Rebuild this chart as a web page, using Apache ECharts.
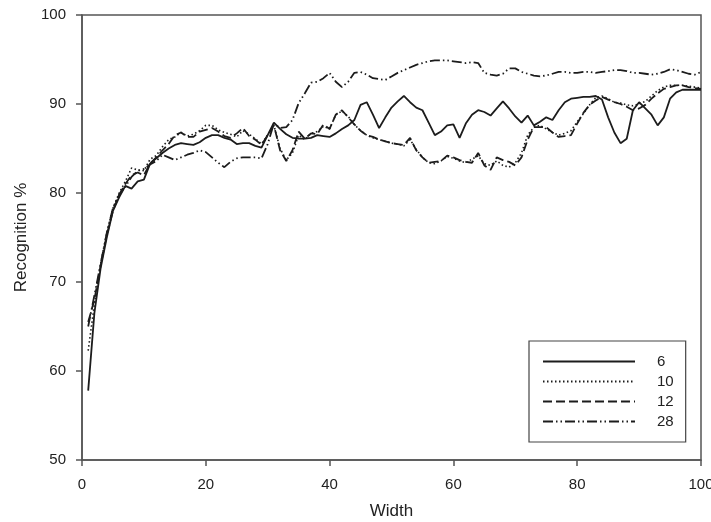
<!DOCTYPE html>
<html>
<head>
<meta charset="utf-8">
<script src="https://cdn.jsdelivr.net/npm/echarts@6/dist/echarts.min.js"></script>
<style>
html,body{margin:0;padding:0;background:#fff;}
#chart{width:711px;height:522px;}
</style>
</head>
<body>
<div id="chart"></div>
<script>
// Width values 1..100
const widths = Array.from({length: 100}, (_, i) => i + 1);

const seriesNames = ['6', '10', '12', '28'];

const s6 = [
57.8,66.5,71.5,75.0,78.0,79.5,80.8,80.5,81.3,81.5,
83.3,83.9,84.5,85.0,85.4,85.6,85.5,85.4,85.7,86.2,
86.5,86.5,86.2,86.0,85.5,85.6,85.6,85.3,85.1,86.5,
87.9,87.2,86.6,86.2,86.1,86.1,86.2,86.5,86.4,86.3,
86.7,87.2,87.6,88.2,89.9,90.2,88.8,87.3,88.5,89.6,
90.3,90.9,90.2,89.6,89.3,87.9,86.5,86.9,87.6,87.7,
86.2,87.8,88.8,89.3,89.1,88.7,89.5,90.3,89.5,88.6,
87.9,88.7,87.6,88.0,88.5,88.2,89.3,90.2,90.6,90.7,
90.8,90.8,90.9,90.5,88.5,86.8,85.6,86.1,89.3,90.2,
89.5,88.8,87.6,88.5,90.6,91.3,91.6,91.6,91.6,91.6
];

const s10 = [
62.3,67.5,72.0,75.5,78.3,80.0,81.3,82.8,82.6,82.5,
83.8,84.2,85.2,86.0,86.3,86.8,86.4,86.6,87.0,87.6,
87.6,87.1,86.8,86.6,86.3,87.0,86.6,86.1,85.5,86.5,
87.6,85.0,83.7,84.5,86.5,86.0,86.7,86.9,87.5,87.2,
88.8,89.2,88.6,87.7,87.0,86.5,86.2,86.0,85.8,85.6,
85.5,85.3,86.0,84.9,84.0,83.4,83.3,83.6,84.1,83.9,
83.6,83.4,83.8,84.2,83.3,83.1,83.6,83.1,82.9,83.4,
84.5,86.5,87.4,87.6,87.2,86.8,86.5,86.7,87.0,88.0,
88.9,89.9,90.7,90.9,90.6,90.2,90.1,89.9,89.8,90.0,
90.3,90.9,91.5,91.9,92.1,92.1,92.1,92.0,91.9,91.8
];

const s12 = [
65.5,68.0,71.8,75.3,78.0,79.8,81.0,82.0,82.3,82.0,
83.3,84.0,84.8,85.5,86.5,86.8,86.3,86.3,86.9,87.1,
87.3,86.9,86.4,86.2,86.7,87.3,86.4,86.0,85.4,86.5,
87.6,84.8,83.6,84.8,86.9,86.1,86.7,86.6,87.7,87.2,
88.8,89.3,88.5,87.7,87.0,86.5,86.3,86.0,85.8,85.6,
85.5,85.4,86.2,84.8,84.0,83.4,83.5,83.6,84.2,84.0,
83.7,83.5,83.4,84.5,83.1,82.6,84.0,83.7,83.5,83.1,
84.0,86.0,87.4,87.4,87.4,86.8,86.3,86.4,86.5,87.8,
89.0,89.9,90.4,90.8,90.5,90.2,90.0,89.7,89.3,89.5,
89.9,90.6,91.2,91.7,91.9,92.1,92.1,91.9,91.8,91.7
];

const s28 = [
65.0,68.5,72.0,75.5,78.3,79.8,80.7,81.8,82.5,82.7,
83.2,83.6,84.3,84.0,83.7,84.0,84.3,84.5,84.8,84.6,
84.0,83.4,82.9,83.5,83.9,84.0,84.0,84.0,83.9,85.5,
87.8,87.3,87.4,88.2,90.1,91.2,92.4,92.5,92.9,93.5,
92.5,91.9,92.5,93.5,93.6,93.3,92.9,92.8,92.7,93.1,
93.5,93.8,94.1,94.4,94.6,94.8,94.9,94.9,94.9,94.8,
94.7,94.6,94.7,94.6,93.5,93.3,93.2,93.4,94.0,94.0,
93.6,93.4,93.2,93.1,93.2,93.4,93.6,93.6,93.5,93.5,
93.6,93.6,93.5,93.6,93.7,93.8,93.8,93.7,93.5,93.5,
93.4,93.3,93.4,93.6,93.9,93.8,93.6,93.4,93.3,93.6
];

const xTicks = [0, 20, 40, 60, 80, 100];
const yTicks = [50, 60, 70, 80, 90, 100];

const lineColor = '#1c1c1c';
const axisColor = '#555';
const fontFam = 'Liberation Sans, Arial, sans-serif';

function pairs(vals) { return widths.map((w, i) => [w, vals[i]]); }

const styles = [
  {type: 'solid', width: 1.8},
  {type: [1.5, 2.5], width: 1.6},
  {type: [9, 4], width: 1.8},
  {type: [10, 3, 1.5, 3, 1.5, 3], width: 1.8}
];
const dataSets = [s6, s10, s12, s28];

const chart = echarts.init(document.getElementById('chart'), null, {renderer: 'canvas'});
chart.setOption({
  animation: false,
  backgroundColor: '#fff',
  grid: {left: 82, right: 10, top: 15, bottom: 62, outerBoundsMode: 'none', containLabel: false,
         show: true, borderColor: axisColor, borderWidth: 1.5, backgroundColor: 'transparent'},
  xAxis: {
    type: 'value', min: xTicks[0], max: xTicks[xTicks.length - 1], interval: 20,
    name: 'Width', nameLocation: 'middle', nameGap: 43,
    nameTextStyle: {fontFamily: fontFam, fontSize: 17, color: '#222'},
    axisLine: {show: true, onZero: false, lineStyle: {color: axisColor, width: 1.5}},
    axisTick: {show: true, inside: false, length: 6, lineStyle: {color: axisColor, width: 1.5}},
    axisLabel: {margin: 17, fontFamily: fontFam, fontSize: 15, color: '#222', hideOverlap: false},
    splitLine: {show: false}
  },
  yAxis: {
    type: 'value', min: yTicks[0], max: yTicks[yTicks.length - 1], interval: 10,
    name: 'Recognition %', nameLocation: 'middle', nameGap: 52,
    nameTextStyle: {fontFamily: fontFam, fontSize: 17, color: '#222'},
    axisLine: {show: true, onZero: false, lineStyle: {color: axisColor, width: 1.5}},
    axisTick: {show: true, inside: false, length: 6, lineStyle: {color: axisColor, width: 1.5}},
    axisLabel: {margin: 16, fontFamily: fontFam, fontSize: 15, color: '#222'},
    splitLine: {show: false}
  },
  legend: {
    orient: 'vertical', left: 529, top: 341,
    padding: [13, 12, 13, 13],
    itemWidth: 92, itemHeight: 14, itemGap: 5,
    backgroundColor: '#fff', borderColor: '#444', borderWidth: 1.2,
    itemStyle: {opacity: 0},
    textStyle: {fontFamily: fontFam, fontSize: 15, color: '#222', width: 28, padding: [0, 0, 0, 17]},
    data: seriesNames
  },
  series: seriesNames.map((n, i) => ({
    name: n, type: 'line', data: pairs(dataSets[i]),
    showSymbol: false, symbol: 'none',
    lineStyle: Object.assign({color: lineColor}, styles[i]),
    itemStyle: {color: lineColor},
    z: 2
  }))
});
</script>
</body>
</html>
